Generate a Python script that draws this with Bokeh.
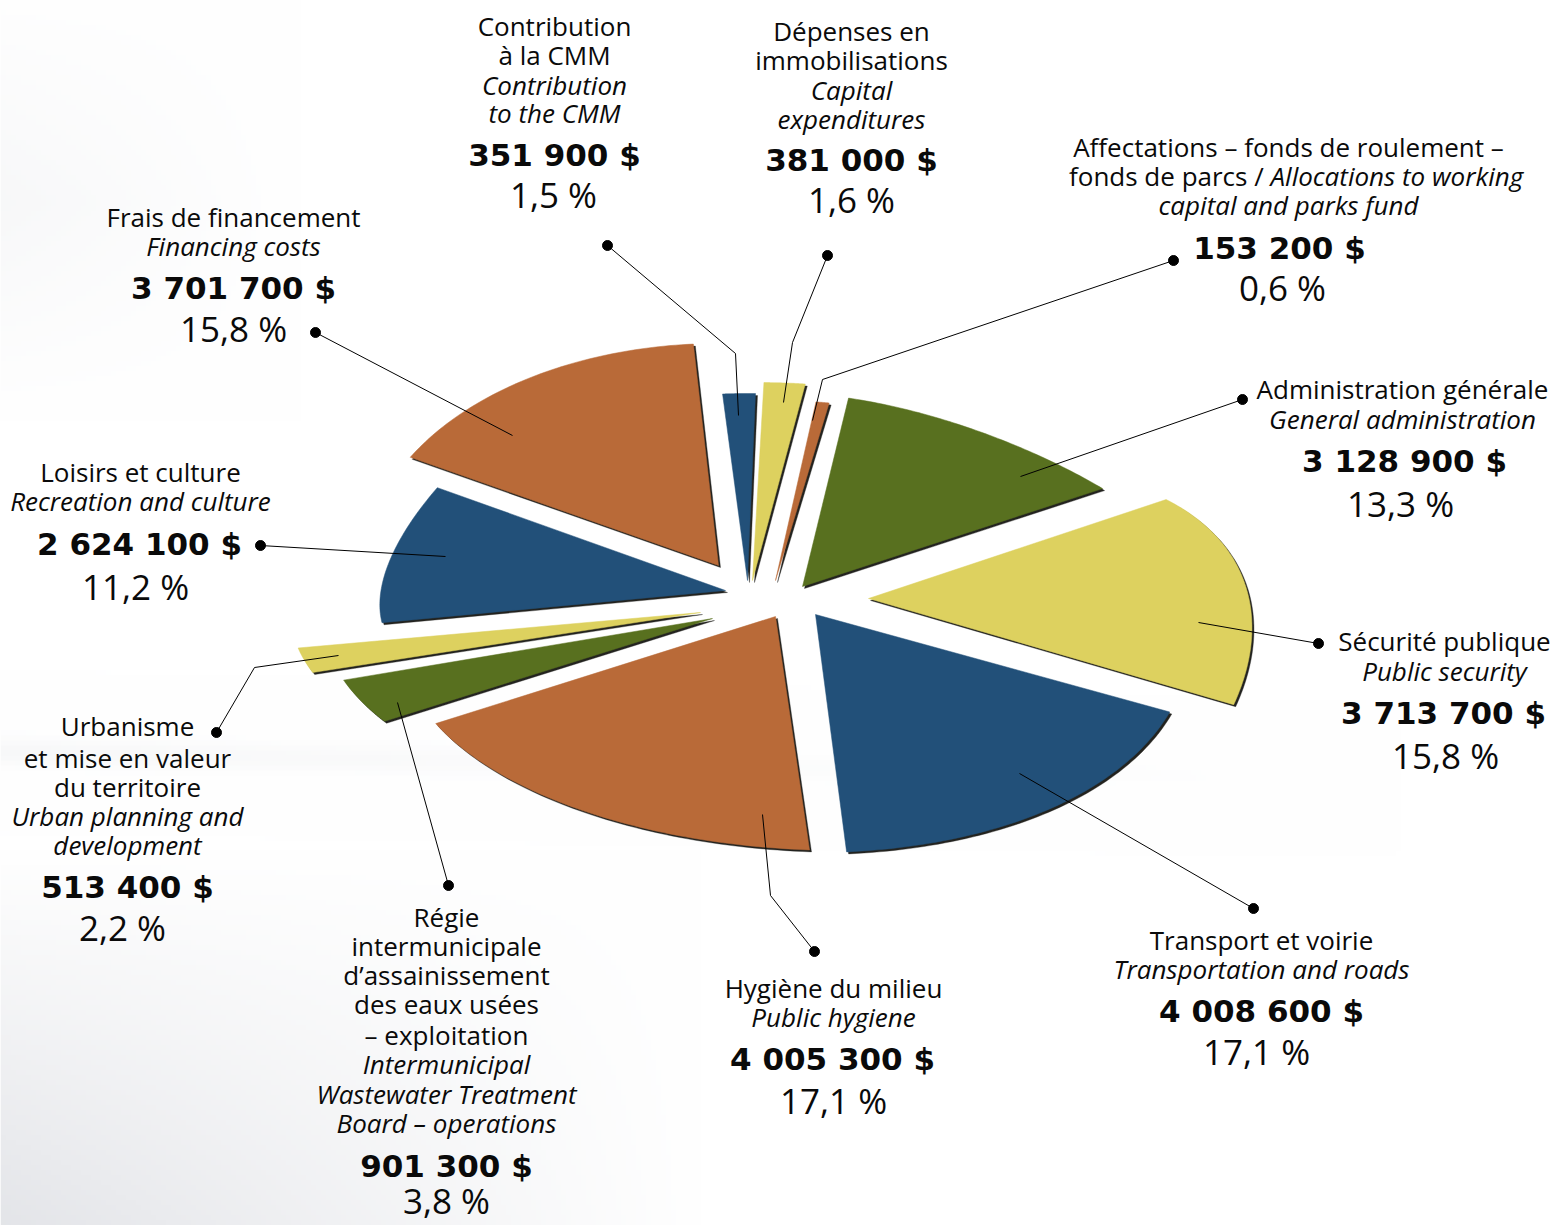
import numpy as np
from bokeh.core.properties import value
from bokeh.embed import file_html
from bokeh.models import Range1d
from bokeh.plotting import figure
from bokeh.resources import INLINE

# --- data -------------------------------------------------------------
categories = ["Administration générale", "Sécurité publique", "Transport et voirie",
              "Hygiène du milieu", "Régie d'assainissement", "Urbanisme",
              "Loisirs et culture", "Frais de financement", "Contribution à la CMM",
              "Dépenses en immobilisations", "Affectations"]
amounts = [3128900, 3713700, 4008600, 4005300, 901300, 513400,
           2624100, 3701700, 351900, 381000, 153200]
amount_labels = ["3 128 900 $", "3 713 700 $", "4 008 600 $", "4 005 300 $", "901 300 $", "513 400 $",
                 "2 624 100 $", "3 701 700 $", "351 900 $", "381 000 $", "153 200 $"]
percent_labels = ["13,3 %", "15,8 %", "17,1 %", "17,1 %", "3,8 %", "2,2 %",
                  "11,2 %", "15,8 %", "1,5 %", "1,6 %", "0,6 %"]
roman_lines = [["Administration générale"], ["Sécurité publique"], ["Transport et voirie"],
               ["Hygiène du milieu"],
               ["Régie", "intermunicipale", "d’assainissement", "des eaux usées", "– exploitation"],
               ["Urbanisme", "et mise en valeur", "du territoire"],
               ["Loisirs et culture"], ["Frais de financement"],
               ["Contribution", "à la CMM"], ["Dépenses en", "immobilisations"],
               ["Affectations – fonds de roulement –", "fonds de parcs / "]]
italic_lines = [["General administration"], ["Public security"], ["Transportation and roads"],
                ["Public hygiene"],
                ["Intermunicipal", "Wastewater Treatment", "Board – operations"],
                ["Urban planning and", "development"],
                ["Recreation and culture"], ["Financing costs"],
                ["Contribution", "to the CMM"], ["Capital", "expenditures"],
                ["Allocations to working", "capital and parks fund"]]

# --- layout (slice geometry apart from the sweep, which comes from amounts) ---
colors = ["#58701f", "#ddd15f", "#225079", "#b96a38", "#58701f", "#ddd15f",
          "#225079", "#b96a38", "#225079", "#ddd15f", "#b96a38"]
tip_x = [802, 868, 815, 775, 712, 700, 725, 718, 747, 752, 775]
tip_y = [586, 598, 614, 616, 618, 612, 590, 565, 580, 580, 580]
rad_x0 = [279, 353, 389, 470, 390, 410, 350, 353, 350, 500, 325]
rad_x1 = [356, 401, 430, 404, 390, 410, 330, 353, 350, 424, 325]
rad_y0 = [191, 184, 236, 234, 190, 185, 168, 222, 187, 198, 180]
rad_y1 = [182, 257, 238, 198, 190, 185, 211, 222, 187, 198, 180]
START_DEG = 9.5

leader_x = [[1242, 1020], [1318, 1198], [1253, 1019], [814, 770, 762], [448, 397], [216, 254, 338],
            [260, 445], [315, 512], [607, 735, 738], [827, 792, 783], [1173, 822, 812]]
leader_y = [[399, 476], [643, 622], [908, 773], [951, 895, 814], [885, 702], [732, 667, 655],
            [545, 556], [332, 435], [245, 353, 415], [255, 342, 402], [260, 379, 420]]

text_cx = [1402, 1444, 1261, 833, 446, 127, 140, 233, 554, 851, 1288]
roman_y = [[399], [651], [950], [998], [927, 956, 985, 1014, 1045], [736, 768, 797],
           [482], [227], [36, 65], [41, 70], [157, 186]]
italic_y = [[429], [681], [979], [1027], [1074, 1104, 1133], [826, 855],
            [511], [256], [95, 123], [100, 129], [186, 215]]
amount_xy = [(1404, 472), (1443, 724), (1261, 1022), (832, 1070), (446, 1177), (127, 898),
             (139, 555), (233, 299), (554, 166), (851, 171), (1279, 259)]
percent_xy = [(1400, 517), (1445, 769), (1256, 1065), (833, 1114), (446, 1214), (122, 941),
              (135, 600), (233, 342), (553, 208), (851, 213), (1282, 301)]

FONT = "Open Sans"
W, H = 1555, 1225
p = figure(width=W, height=H, output_backend="svg", toolbar_location=None,
           x_range=Range1d(0, W), y_range=Range1d(H, 0),
           min_border=0, outline_line_color=None)
p.axis.visible = False
p.grid.visible = False
p.background_fill_color = "white"
p.border_fill_color = "white"

# --- pale backdrop -----------------------------------------------------
gx, gy = np.meshgrid(np.linspace(0, 1555, 311), np.linspace(0, 1225, 245))
shade = np.zeros_like(gx)
shade += 26 * np.clip(1 - gx / 700, 0, 1) * np.clip((gy - 850) / 375, 0, 1)
shade += 7 * np.clip(1 - gx / 300, 0, 1) * np.clip(1 - np.abs(gy - 200) / 220, 0, 1)
shade += 7 * np.exp(-((gy - 760 - (gx - 400) * 0.02) / 14) ** 2) * np.clip(1 - gx / 1400, 0, 1)
rgba = np.zeros(gx.shape, dtype=np.uint32)
view = rgba.view(np.uint8).reshape(gx.shape + (4,))
view[..., 0] = (255 - shade * 1.05).astype(np.uint8)
view[..., 1] = (255 - shade).astype(np.uint8)
view[..., 2] = (255 - shade * 0.85).astype(np.uint8)
view[..., 3] = 255
p.image_rgba(image=[rgba[::-1]], x=0, y=0, dw=1555, dh=1225, origin="top_left")

# --- exploded pie, sweep from the amounts --------------------------------
total = sum(amounts)
edges = START_DEG + np.cumsum([0] + amounts) / total * 360
xs, ys = [], []
for i in range(len(amounts)):
    f = np.linspace(0, 1, 60)
    t = np.radians(edges[i] + f * (edges[i + 1] - edges[i]))
    rxf = rad_x0[i] + f * (rad_x1[i] - rad_x0[i])
    ryf = rad_y0[i] + f * (rad_y1[i] - rad_y0[i])
    xs.append(np.r_[tip_x[i], tip_x[i] + rxf * np.sin(t)])
    ys.append(np.r_[tip_y[i], tip_y[i] - ryf * np.cos(t)])
p.patches([x + 2 for x in xs], [y + 2 for y in ys], fill_color="#23231f", line_color="#23231f",
          line_alpha=0.35, line_width=1)
p.patches(xs, ys, fill_color=colors, line_color=colors, line_width=0.5)

# --- leaders -------------------------------------------------------------
p.multi_line(leader_x, leader_y, line_color="black", line_width=1)
p.scatter([l[0] for l in leader_x], [l[0] for l in leader_y], size=10, color="black")

# --- texts ---------------------------------------------------------------
def put(xx, yy, tt, size, style="normal", align="center", font=FONT, lift=11):
    p.text(x=xx, y=yy, text=tt, text_font=value(font), text_font_size=size, text_font_style=style,
           text_align=align, text_baseline="alphabetic", text_color="#0a0a0a", y_offset=-lift)

rx, ry, rt, ix, iy, it = [], [], [], [], [], []
for i in range(len(categories)):
    for line, y in zip(roman_lines[i], roman_y[i]):
        rx.append(text_cx[i]); ry.append(y); rt.append(line)
    for line, y in zip(italic_lines[i], italic_y[i]):
        ix.append(text_cx[i]); iy.append(y); it.append(line)
# the mixed line of the last block is set in two pieces
k = rt.index("fonds de parcs / ")
sx, sy, st = rx.pop(k), ry.pop(k), rt.pop(k)
j = it.index("Allocations to working")
jx, jy, jt = ix.pop(j), iy.pop(j), it.pop(j)
SPLIT = 1270
put(rx, ry, rt, "26px")
put(ix, iy, it, "26px", "italic")
put([SPLIT], [sy], [st], "26px", align="right")
put([SPLIT], [jy], [jt], "26px", "italic", align="left")
put([a[0] for a in amount_xy], [a[1] for a in amount_xy], amount_labels, "31px", "bold", font="DejaVu Sans", lift=12)
put([a[0] for a in percent_xy], [a[1] for a in percent_xy], percent_labels, "35px", lift=14)

open("out.html", "w").write(file_html(p, INLINE))
